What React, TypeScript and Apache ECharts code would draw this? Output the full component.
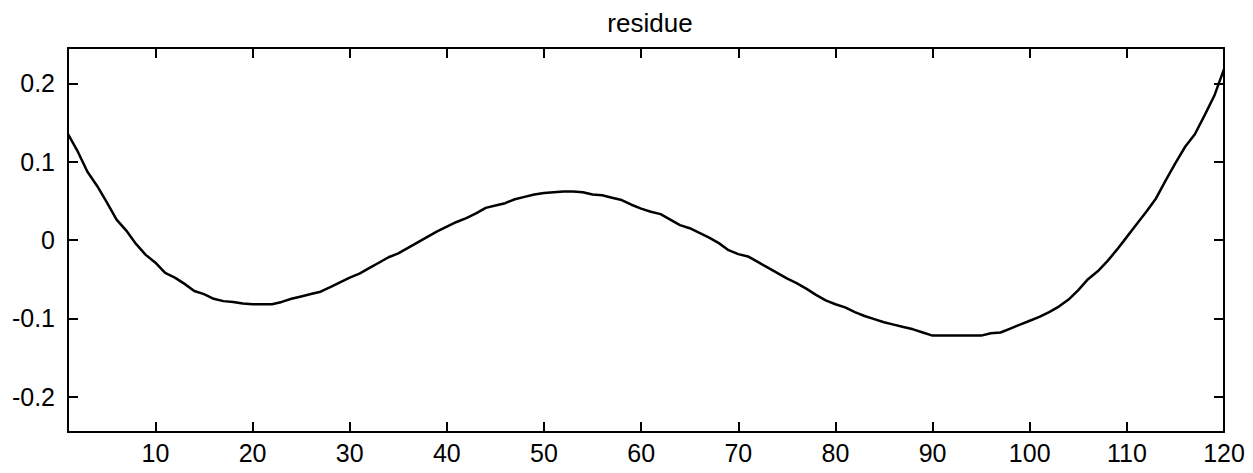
import React, { useEffect, useRef } from "react";
import * as echarts from "echarts";

const titleText = "residue";

const xValues: number[] = Array.from({ length: 120 }, (_, i) => i + 1);

const residue: number[] = [
  0.135, 0.113, 0.087, 0.069, 0.048, 0.026, 0.012, -0.005, -0.019, -0.029,
  -0.042, -0.048, -0.056, -0.065, -0.069, -0.075, -0.078, -0.079, -0.081, -0.082,
  -0.082, -0.082, -0.079, -0.075, -0.072, -0.069, -0.066, -0.060, -0.054, -0.048,
  -0.043, -0.036, -0.029, -0.022, -0.017, -0.010, -0.003, 0.004, 0.011, 0.017,
  0.023, 0.028, 0.034, 0.041, 0.044, 0.047, 0.052, 0.055, 0.058, 0.060,
  0.061, 0.062, 0.062, 0.061, 0.058, 0.057, 0.054, 0.051, 0.045, 0.040,
  0.036, 0.033, 0.026, 0.019, 0.015, 0.009, 0.003, -0.004, -0.013, -0.018,
  -0.021, -0.028, -0.035, -0.042, -0.049, -0.055, -0.062, -0.070, -0.077, -0.082,
  -0.086, -0.092, -0.097, -0.101, -0.105, -0.108, -0.111, -0.114, -0.118, -0.122,
  -0.122, -0.122, -0.122, -0.122, -0.122, -0.119, -0.118, -0.113, -0.108, -0.103,
  -0.098, -0.092, -0.085, -0.076, -0.064, -0.050, -0.040, -0.027, -0.012, 0.004,
  0.020, 0.036, 0.053, 0.076, 0.098, 0.119, 0.135, 0.159, 0.184, 0.218,
];

const xMin = 1;
const xMax = 120;
const yMin = -0.245;
const yMax = 0.245;

const FONT = "'Liberation Sans', Arial, sans-serif";

export default function App() {
  const ref = useRef<HTMLDivElement>(null);

  useEffect(() => {
    if (!ref.current) return;
    const chart = echarts.init(ref.current, undefined, { renderer: "svg" });

    const axisLine = { show: true, onZero: false, lineStyle: { color: "#000", width: 2 } };
    const tick = { show: true, inside: true, length: 10, lineStyle: { color: "#000", width: 2 } };

    const xFmt = (v: number) => (Math.abs(v % 10) < 1e-9 ? String(v) : "");
    const yFmt = (v: number) => {
      const t = v * 10;
      if (Math.abs(t - Math.round(t)) > 1e-6) return "";
      const r = Math.round(t) / 10;
      return r === 0 ? "0" : String(r);
    };

    const xBase = {
      type: "value" as const,
      min: xMin,
      max: xMax,
      splitNumber: 12,
      minInterval: 10,
      maxInterval: 10,
      splitLine: { show: false },
      axisLine,
      axisTick: tick,
    };
    const yBase = {
      type: "value" as const,
      min: yMin,
      max: yMax,
      splitNumber: 5,
      minInterval: 0.1,
      maxInterval: 0.1,
      splitLine: { show: false },
      axisLine,
      axisTick: tick,
    };

    chart.setOption({
      animation: false,
      backgroundColor: "#fff",
      title: {
        text: titleText,
        left: 645,
        top: 5,
        textAlign: "center",
        textStyle: { fontFamily: FONT, fontSize: 26, fontWeight: "normal", color: "#000" },
      },
      grid: { left: 68, top: 48, width: 1156, height: 384, containLabel: false },
      xAxis: [
        {
          ...xBase,
          position: "bottom",
          axisLabel: {
            show: true,
            formatter: xFmt,
            fontFamily: FONT,
            fontSize: 25,
            color: "#000",
            margin: 8,
            showMinLabel: true,
            showMaxLabel: true,
          },
        },
        { ...xBase, position: "top", axisLabel: { show: false } },
      ],
      yAxis: [
        {
          ...yBase,
          position: "left",
          axisLabel: {
            show: true,
            formatter: yFmt,
            fontFamily: FONT,
            fontSize: 25,
            color: "#000",
            margin: 13,
          },
        },
        { ...yBase, position: "right", axisLabel: { show: false } },
      ],
      series: [
        {
          type: "line",
          xAxisIndex: 0,
          yAxisIndex: 0,
          data: xValues.map((x, i) => [x, residue[i]]),
          showSymbol: false,
          symbol: "none",
          lineStyle: { color: "#000", width: 2.5 },
        },
      ],
    });

    return () => chart.dispose();
  }, []);

  return (
    <div
      ref={ref}
      style={{ position: "fixed", left: 0, top: 0, width: 1253, height: 473, background: "#fff" }}
    />
  );
}
